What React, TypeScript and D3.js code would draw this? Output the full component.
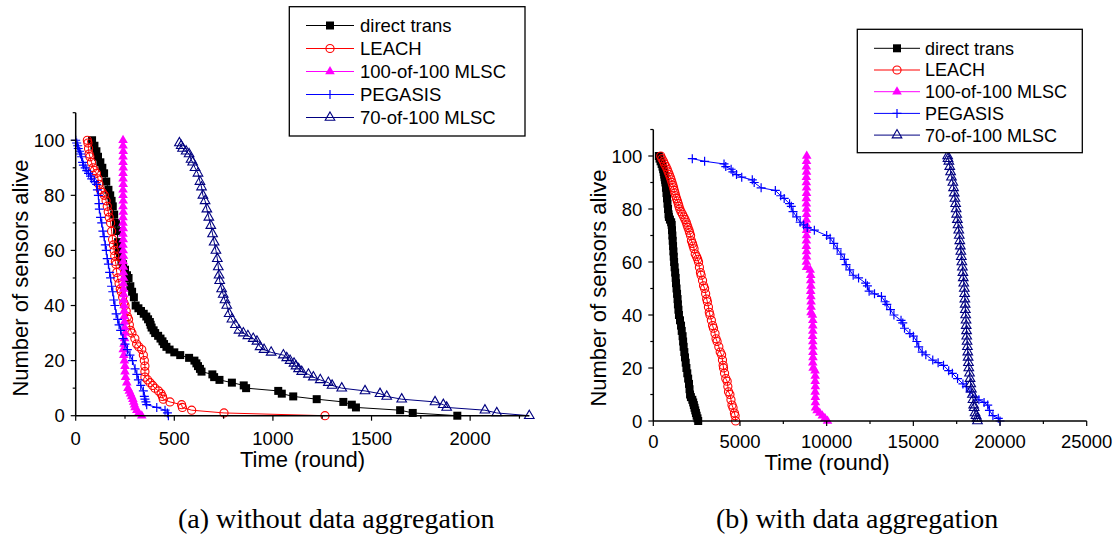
import React from 'react';
import * as d3 from 'd3';

type Pt = [number, number];

const seriesNames = ['direct trans', 'LEACH', '100-of-100 MLSC', 'PEGASIS', '70-of-100 MLSC'];
const seriesColors = ['#000000', '#ff0000', '#ff00ff', '#0000ff', '#000080'];
const seriesMarkers = ['square', 'circle', 'triangleFilled', 'plus', 'triangleOpen'];

const xTicksA = [0, 500, 1000, 1500, 2000];
const xMinorA = [250, 750, 1250, 1750, 2250];
const xTicksB = [0, 5000, 10000, 15000, 20000, 25000];
const xMinorB = [2500, 7500, 12500, 17500, 22500];
const yTicks = [0, 20, 40, 60, 80, 100];
const yMinor = [10, 30, 50, 70, 90, 110];

// (a) without data aggregation: [round, sensors alive]
const directA: Pt[] = [[83,100],[95,98],[105,96],[113,94],[125,92],[135,90],[144,88],[155,85],[166,82],[175,80],[182,78],[188,76],[195,73],[204,70],[210,67],[215,63],[219,60],[225,58],[232,56],[240,55],[250,53],[260,51],[268,50],[277,47],[286,45],[295,43],[304,40],[318,39],[331,38],[345,37],[358,36],[367,35],[376,34],[380,33],[385,32],[395,31],[403,30],[418,29],[430,28],[440,27],[448,26],[460,25],[476,24],[500,23],[530,22],[575,21],[602,20],[612,19],[620,18],[630,17],[638,16],[693,15],[702,14],[729,13],[792,12],[852,11],[864,10],[1027,9],[1045,8],[1103,7],[1222,6],[1357,5],[1400,4],[1421,3],[1645,2],[1709,1],[1935,0]];
const leachA: Pt[] = [[59,100],[62,99],[65,97],[68,95],[72,94],[80,92],[88,90],[95,89],[105,88],[113,86],[118,84],[125,82],[135,81],[145,80],[154,78],[160,76],[165,74],[170,72],[177,70],[182,67],[187,64],[191,62],[195,60],[198,58],[201,56],[204,55],[208,52],[213,50],[220,48],[226,46],[231,45],[238,43],[244,41],[250,40],[256,38],[262,36],[268,35],[272,33],[278,31],[285,30],[300,28],[309,26],[320,25],[335,24],[343,22],[348,20],[351,18],[351,16],[351,14],[365,13],[377,12],[390,11],[402,10],[420,9],[433,8],[440,7],[444,6],[478,5],[537,4],[541,3],[588,2],[752,1],[1264,0]];
const mlsc100A: Pt[] = [[240,100],[240,98],[241,96],[240,94],[240,92],[241,90],[240,88],[240,86],[241,84],[240,82],[240,80],[241,78],[240,76],[241,74],[240,72],[240,70],[241,68],[240,66],[241,64],[240,62],[241,60],[242,58],[241,56],[242,54],[242,52],[243,50],[242,48],[243,46],[244,44],[243,42],[245,40],[246,38],[246,36],[247,34],[248,32],[250,30],[248,28],[245,26],[241,24],[244,22],[247,20],[250,18],[250,16],[253,14],[259,12],[265,10],[272,9],[278,8],[284,7],[290,6],[294,5],[298,4],[301,3],[310,2],[320,1],[335,0]];
const pegasisA: Pt[] = [[0,100],[5,99],[10,98],[13,97],[20,96],[25,95],[30,94],[35,92],[39,91],[48,90],[56,89],[65,88],[75,87],[81,86],[95,85],[106,84],[110,82],[115,80],[118,77],[120,75],[126,72],[132,70],[138,67],[144,65],[150,62],[155,60],[160,57],[166,55],[172,52],[177,50],[182,47],[188,45],[193,42],[199,40],[205,37],[213,35],[220,33],[228,31],[240,28],[250,26],[262,24],[275,22],[288,20],[301,17],[310,15],[318,13],[330,11],[343,9],[348,7],[351,6],[356,5],[360,4],[411,3],[453,2],[465,1],[470,0]];
const mlsc70A: Pt[] = [[526,99],[535,98],[542,97],[560,96],[575,95],[585,93],[593,92],[605,90],[620,88],[630,85],[638,83],[645,80],[656,78],[665,75],[675,72],[685,69],[694,66],[702,63],[711,60],[718,57],[723,54],[727,51],[730,49],[740,46],[748,44],[757,42],[766,40],[778,37],[792,35],[810,33],[828,31],[850,30],[873,29],[900,28],[919,27],[935,25],[955,24],[991,23],[1053,22],[1070,21],[1087,20],[1107,19],[1117,18],[1130,17],[1146,16],[1180,15],[1205,14],[1240,13],[1281,12],[1300,11],[1349,10],[1467,9],[1543,8],[1577,7],[1653,6],[1822,5],[1864,4],[1881,3],[2075,2],[2135,1],[2300,0]];

// (b) with data aggregation
const directB: Pt[] = [[320,100],[360,99],[420,98],[480,97],[530,96],[570,95],[600,94],[630,93],[650,92],[680,91],[700,90],[730,88],[760,86],[790,84],[820,82],[850,80],[880,78],[900,77],[960,76],[1030,75],[1060,74],[1080,72],[1100,70],[1120,68],[1140,66],[1160,64],[1180,62],[1200,60],[1230,58],[1260,56],[1290,54],[1310,52],[1340,50],[1370,48],[1400,46],[1420,44],[1450,42],[1480,40],[1540,38],[1600,36],[1640,34],[1690,32],[1720,30],[1750,28],[1790,26],[1830,24],[1870,22],[1910,20],[1960,18],[2010,16],[2060,14],[2090,12],[2120,10],[2170,9],[2250,8],[2300,7],[2340,6],[2380,5],[2420,4],[2460,3],[2500,2],[2550,1],[2590,0]];
const leachB: Pt[] = [[430,100],[500,99],[580,98],[650,97],[730,96],[800,95],[860,94],[920,93],[980,92],[1030,91],[1080,90],[1130,89],[1170,88],[1210,87],[1250,86],[1290,85],[1340,84],[1390,83],[1440,82],[1480,81],[1530,80],[1600,79],[1680,78],[1760,77],[1830,76],[1900,75],[1950,74],[2000,73],[2060,72],[2100,71],[2150,70],[2200,68],[2260,67],[2300,66],[2350,65],[2420,63],[2500,62],[2560,61],[2610,60],[2660,58],[2720,56],[2760,55],[2840,53],[2900,51],[2960,50],[3020,48],[3080,46],[3120,45],[3180,43],[3230,41],[3270,40],[3350,38],[3420,36],[3470,35],[3560,33],[3620,31],[3680,30],[3780,28],[3860,26],[3940,25],[3990,23],[4030,21],[4050,20],[4110,18],[4180,16],[4260,15],[4300,13],[4340,11],[4420,10],[4480,8],[4540,6],[4600,5],[4680,3],[4720,2],[4750,0]];
const mlsc100B: Pt[] = [[8850,100],[8840,98],[8830,96],[8840,94],[8830,92],[8830,90],[8840,88],[8840,86],[8830,84],[8830,82],[8840,80],[8840,78],[8830,76],[8830,74],[8840,72],[8840,70],[8830,68],[8830,66],[8840,64],[8840,62],[8830,60],[8840,58],[9050,57],[9080,55],[9080,53],[9090,51],[9080,49],[9090,47],[9100,45],[9100,43],[9100,41],[9180,40],[9200,38],[9200,36],[9200,34],[9190,32],[9200,30],[9210,28],[9210,26],[9210,24],[9200,22],[9220,20],[9330,19],[9340,17],[9340,15],[9350,13],[9340,11],[9350,9],[9350,7],[9360,5],[9450,4],[9600,3],[9750,2],[9900,1],[10050,0]];
const pegasisB: Pt[] = [[2250,99],[2960,98],[4080,97],[4180,96],[4490,95],[4590,94],[4800,93],[5100,92],[5710,91],[5820,90],[6220,88],[7040,87],[7350,85],[7550,84],[7860,82],[7960,81],[8060,79],[8270,77],[8470,75],[8670,74],[8880,73],[9290,72],[10000,70],[10200,69],[10410,67],[10610,65],[10820,63],[11020,61],[11120,59],[11330,57],[11530,55],[11840,54],[12250,52],[12350,51],[12450,49],[12760,48],[13160,47],[13370,45],[13470,44],[13680,42],[13880,40],[14290,38],[14390,37],[14490,35],[14800,33],[15000,32],[15200,30],[15310,28],[15510,26],[15720,25],[16120,23],[16430,22],[16740,21],[17040,19],[17250,18],[17550,16],[17860,14],[18060,13],[18270,11],[18570,9],[18780,8],[19080,7],[19290,6],[19390,4],[19590,2],[19900,1],[20000,0]];
const mlsc70B: Pt[] = [[16980,100],[17000,99],[17050,98],[17100,96],[17150,94],[17200,92],[17280,90],[17320,88],[17360,86],[17400,84],[17440,82],[17470,80],[17500,78],[17540,76],[17580,74],[17620,72],[17650,70],[17680,68],[17710,66],[17740,64],[17770,62],[17800,60],[17830,58],[17860,56],[17880,54],[17910,52],[17940,50],[17960,48],[17970,46],[17990,44],[18000,42],[18020,40],[18040,38],[18050,36],[18070,34],[18080,32],[18100,30],[18120,28],[18140,26],[18160,24],[18180,22],[18200,20],[18240,18],[18270,16],[18310,14],[18350,12],[18410,10],[18440,8],[18480,6],[18510,5],[18560,3],[18620,2],[18680,1],[18700,0]];

const dataA = [directA, leachA, mlsc100A, pegasisA, mlsc70A];
const dataB = [directB, leachB, mlsc100B, pegasisB, mlsc70B];

const FONT = "'Liberation Sans', Arial, sans-serif";
const SERIF = "'Liberation Serif', 'Times New Roman', serif";

const symSquare = d3.symbol(d3.symbolSquare, 64)() as string;
const symCircle = d3.symbol(d3.symbolCircle, 52)() as string;
const symTri = d3.symbol(d3.symbolTriangle, 40)() as string;

function Marker({ type, color, x, y }: { type: string; color: string; x: number; y: number }) {
  const t = `translate(${x},${y})`;
  switch (type) {
    case 'square':
      return <path d={symSquare} transform={t} fill={color} />;
    case 'circle':
      return <path d={symCircle} transform={t} fill="none" stroke={color} strokeWidth={1.1} />;
    case 'triangleFilled':
      return <path d={symTri} transform={t} fill={color} />;
    case 'triangleOpen':
      return <path d={symTri} transform={t} fill="none" stroke={color} strokeWidth={1.1} />;
    default:
      return <path d="M-4.5,0H4.5M0,-4.5V4.5" transform={t} stroke={color} strokeWidth={1.2} fill="none" />;
  }
}

type PanelProps = {
  data: Pt[][];
  xDomain: [number, number];
  xRange: [number, number];
  yRange: [number, number];
  xTicks: number[];
  xMinor: number[];
  xLabelOffset: number;
  xTitleX: number;
  xTitleY: number;
  yTitleX: number;
  yTitleY: number;
  legend: { x: number; y: number; w: number; h: number; row0: number; step: number; lx1: number; lx2: number; tx: number; fs: number };
  caption: string;
  captionX: number;
};

function Panel(p: PanelProps) {
  const x = d3.scaleLinear().domain(p.xDomain).range(p.xRange);
  const y = d3.scaleLinear().domain([0, 110]).range(p.yRange);
  const line = d3.line<Pt>().x(d => x(d[0])).y(d => y(d[1]));
  const x0 = p.xRange[0];
  const y0 = p.yRange[0];
  const L = p.legend;
  return (
    <g>
      {p.data.map((s, i) => (
        <g key={i}>
          <path d={line(s) as string} fill="none" stroke={seriesColors[i]} strokeWidth={1} />
          {s.map((d, j) => (
            <Marker key={j} type={seriesMarkers[i]} color={seriesColors[i]} x={x(d[0])} y={y(d[1])} />
          ))}
        </g>
      ))}
      <line x1={x0} x2={x0} y1={y0} y2={p.yRange[1]} stroke="#000" strokeWidth={1.5} />
      <line x1={x0} x2={p.xRange[1]} y1={y0} y2={y0} stroke="#000" strokeWidth={1.5} />
      {yTicks.map(t => (
        <g key={'y' + t}>
          <line x1={x0 - 5} x2={x0} y1={y(t)} y2={y(t)} stroke="#000" strokeWidth={1.2} />
          <text x={x0 - 11} y={y(t)} dy="0.36em" textAnchor="end" fontFamily={FONT} fontSize={18.5}>{t}</text>
        </g>
      ))}
      {yMinor.map(t => (
        <line key={'ym' + t} x1={x0 - 3} x2={x0} y1={y(t)} y2={y(t)} stroke="#000" strokeWidth={1.2} />
      ))}
      {p.xTicks.map(t => (
        <g key={'x' + t}>
          <line x1={x(t)} x2={x(t)} y1={y0} y2={y0 + 5} stroke="#000" strokeWidth={1.2} />
          <text x={x(t)} y={y0 + p.xLabelOffset} textAnchor="middle" fontFamily={FONT} fontSize={18.5}>{t}</text>
        </g>
      ))}
      {p.xMinor.map(t => (
        <line key={'xm' + t} x1={x(t)} x2={x(t)} y1={y0} y2={y0 + 3} stroke="#000" strokeWidth={1.2} />
      ))}
      <text x={p.xTitleX} y={p.xTitleY} textAnchor="middle" fontFamily={FONT} fontSize={22}>Time (round)</text>
      <text transform={`translate(${p.yTitleX},${p.yTitleY}) rotate(-90)`} dy="0.36em" textAnchor="middle" fontFamily={FONT} fontSize={22}>Number of sensors alive</text>
      <rect x={L.x} y={L.y} width={L.w} height={L.h} fill="#fff" stroke="#000" strokeWidth={1.3} />
      {seriesNames.map((n, i) => {
        const ry = L.row0 + i * L.step;
        return (
          <g key={n}>
            <line x1={L.lx1} x2={L.lx2} y1={ry} y2={ry} stroke={seriesColors[i]} strokeWidth={1} />
            <Marker type={seriesMarkers[i]} color={seriesColors[i]} x={(L.lx1 + L.lx2) / 2} y={ry} />
            <text x={L.tx} y={ry} dy="0.36em" fontFamily={FONT} fontSize={L.fs}>{n}</text>
          </g>
        );
      })}
      <text x={p.captionX} y={528} fontFamily={SERIF} fontSize={28}>{p.caption}</text>
    </g>
  );
}

export default function App() {
  return (
    <svg width={1114} height={537} style={{ position: 'absolute', left: 0, top: 0, background: '#fff' }}>
      <Panel
        data={dataA}
        xDomain={[0, 2300]}
        xRange={[75.7, 529.3]}
        yRange={[415.7, 112.7]}
        xTicks={xTicksA}
        xMinor={xMinorA}
        xLabelOffset={29}
        xTitleX={302.5}
        xTitleY={466.5}
        yTitleX={20}
        yTitleY={278}
        legend={{ x: 289.3, y: 6.7, w: 235.7, h: 129.3, row0: 25.5, step: 23, lx1: 306, lx2: 354, tx: 360, fs: 18.5 }}
        caption="(a) without data aggregation"
        captionX={178}
      />
      <Panel
        data={dataB}
        xDomain={[0, 25000]}
        xRange={[653.3, 1086.7]}
        yRange={[421, 129.5]}
        xTicks={xTicksB}
        xMinor={xMinorB}
        xLabelOffset={26.5}
        xTitleX={827}
        xTitleY={470}
        yTitleX={598}
        yTitleY={288}
        legend={{ x: 857.3, y: 29.3, w: 225, h: 123.4, row0: 48.3, step: 21.7, lx1: 874, lx2: 920, tx: 925, fs: 18 }}
        caption="(b) with data aggregation"
        captionX={716}
      />
    </svg>
  );
}
